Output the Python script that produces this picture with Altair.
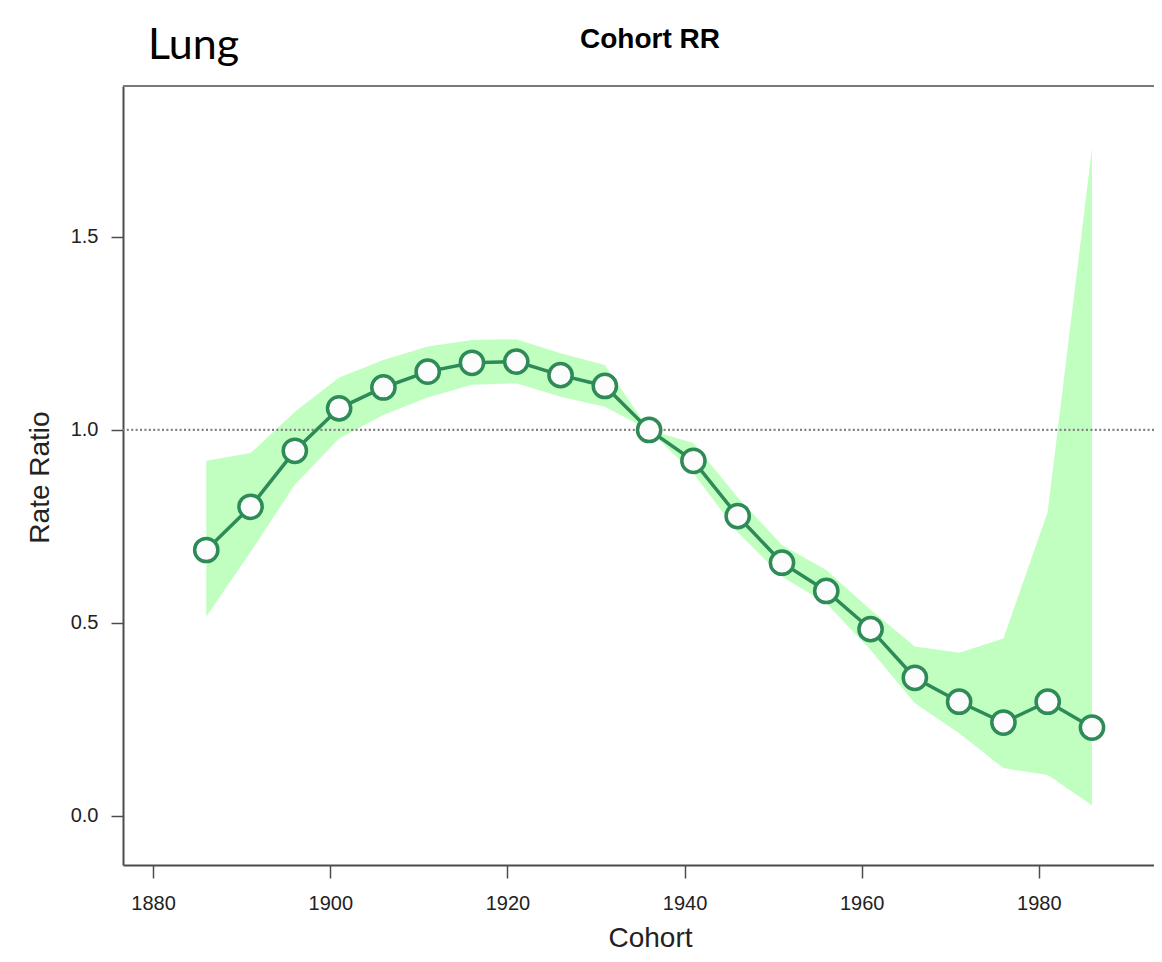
import altair as alt
import pandas as pd

# ---- data ----
cohort = [1886, 1891, 1896, 1901, 1906, 1911, 1916, 1921, 1926, 1931, 1936,
          1941, 1946, 1951, 1956, 1961, 1966, 1971, 1976, 1981, 1986]
rate_ratio = [0.689, 0.801, 0.946, 1.056, 1.110, 1.151, 1.174, 1.177, 1.142, 1.114, 1.000,
              0.920, 0.777, 0.656, 0.583, 0.484, 0.358, 0.296, 0.242, 0.296, 0.229]
ci_upper = [0.920, 0.940, 1.047, 1.136, 1.181, 1.216, 1.233, 1.235, 1.199, 1.168, 1.000,
            0.966, 0.825, 0.702, 0.637, 0.534, 0.439, 0.423, 0.460, 0.788, 1.730]
ci_lower = [0.516, 0.684, 0.858, 0.978, 1.039, 1.084, 1.117, 1.121, 1.086, 1.060, 1.000,
            0.888, 0.735, 0.620, 0.551, 0.430, 0.292, 0.214, 0.124, 0.106, 0.028]
x_ticks = [1880, 1900, 1920, 1940, 1960, 1980]
y_ticks = [0.0, 0.5, 1.0, 1.5]
reference_value = 1.0

df = pd.DataFrame({"Cohort": cohort, "RR": rate_ratio, "lo": ci_lower, "hi": ci_upper})

W, H = 1031, 779
GREEN = "#2E8B57"
BAND = "#C1FFC1"
FONT = "Liberation Sans"

xs = alt.Scale(domain=[1876.6, 1993.0], nice=False, zero=False)
ys = alt.Scale(domain=[-0.127, 1.891], nice=False, zero=False)

x_axis = alt.Axis(values=x_ticks, format="d", title="Cohort", tickSize=13,
                  labelPadding=15, titleX=527, titleY=81, titleAlign="center",
                  titleBaseline="alphabetic")
y_axis = alt.Axis(values=y_ticks, format=".1f", title="Rate Ratio", tickSize=12,
                  labelPadding=13, titleX=-75, titleY=391, titleAngle=270,
                  titleAlign="center", titleBaseline="alphabetic")

X = alt.X("Cohort:Q", scale=xs, axis=x_axis)

base = alt.Chart(df)

band = base.mark_area(color=BAND, opacity=1).encode(
    x=X,
    y=alt.Y("hi:Q", scale=ys, axis=y_axis),
    y2="lo:Q",
)

ref = alt.Chart(pd.DataFrame({"v": [reference_value]})).mark_rule(
    color="#808080", strokeWidth=2.2, strokeDash=[2, 2.4]
).encode(y=alt.Y("v:Q", scale=ys, axis=y_axis))

line = base.mark_line(color=GREEN, strokeWidth=3.5).encode(
    x=X,
    y=alt.Y("RR:Q", scale=ys, axis=y_axis),
)

points = base.mark_point(shape="circle", filled=True, fill="#FCFCFC", stroke=GREEN,
                         strokeWidth=3.5, size=540, opacity=1).encode(
    x=X,
    y=alt.Y("RR:Q", scale=ys, axis=y_axis),
)

top_border = alt.Chart(pd.DataFrame({"a": [0]})).mark_rule(
    color="#7a7a7a", strokeWidth=2
).encode(x=alt.value(0), x2=alt.value(W), y=alt.value(0))

label_df = pd.DataFrame({"t": ["Lung"]})
lung = alt.Chart(label_df).mark_text(
    font="Lato", fontSize=43, align="left", baseline="alphabetic", color="#000000"
).encode(text="t:N", x=alt.value(25), y=alt.value(-27))

title_df = pd.DataFrame({"t": ["Cohort RR"]})
title = alt.Chart(title_df).mark_text(
    font=FONT, fontSize=28, fontWeight="bold", align="center", baseline="alphabetic",
    color="#000000"
).encode(text="t:N", x=alt.value(527), y=alt.value(-38))

chart = alt.layer(band, ref, line, points, top_border, lung, title).properties(
    width=W, height=H,
    autosize=alt.AutoSizeParams(type="none"),
    padding={"left": 115, "top": 78, "right": 0, "bottom": 88},
).configure_view(stroke=None).configure_axis(
    grid=False, domainColor="#4d4d4d", domainWidth=2, tickColor="#4d4d4d", tickWidth=1.5,
    labelFont=FONT, labelFontSize=20, labelColor="#222222",
    titleFont=FONT, titleFontSize=28, titleFontWeight="normal", titleColor="#222222",
)

chart.save("out.html", embed_options={"renderer": "svg", "actions": False})
